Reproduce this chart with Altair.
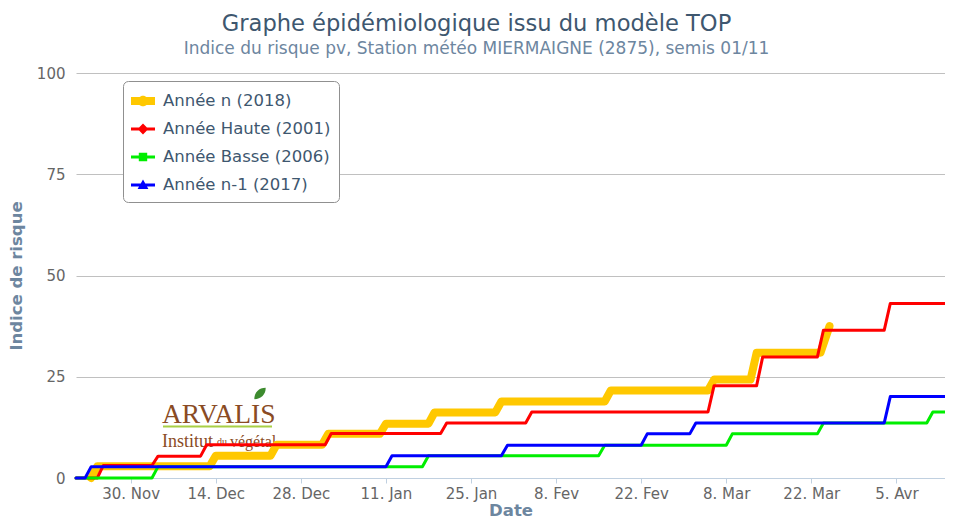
import json
import altair as alt
import pandas as pd

# ---------------- data ----------------
SERIES = ["Année n (2018)", "Année Haute (2001)", "Année Basse (2006)", "Année n-1 (2017)"]

N_DATES = ["2018-11-23T12:00:00Z", "2018-11-24T12:00:00Z", "2018-12-13T00:00:00Z", "2018-12-14T00:00:00Z",
           "2018-12-23T00:00:00Z", "2018-12-24T00:00:00Z", "2018-12-31T12:00:00Z", "2019-01-01T12:00:00Z",
           "2019-01-10T00:00:00Z", "2019-01-11T00:00:00Z", "2019-01-18T00:00:00Z", "2019-01-19T00:00:00Z",
           "2019-01-29T00:00:00Z", "2019-01-30T00:00:00Z", "2019-02-16T00:00:00Z", "2019-02-17T00:00:00Z",
           "2019-03-05T00:00:00Z", "2019-03-06T00:00:00Z", "2019-03-12T00:00:00Z", "2019-03-13T00:00:00Z",
           "2019-03-23T12:00:00Z", "2019-03-25T00:00:00Z"]
N_VALUES = [0, 2.9, 2.9, 5.5, 5.5, 8.2, 8.2, 10.9, 10.9, 13.4, 13.4, 16.2, 16.2, 18.9, 18.9, 21.6,
            21.6, 24.3, 24.3, 30.9, 30.9, 37.5]

HAUTE_DATES = ["2018-11-21T00:00:00Z", "2018-11-24T12:00:00Z", "2018-11-25T12:00:00Z", "2018-12-03T12:00:00Z",
               "2018-12-04T12:00:00Z", "2018-12-11T12:00:00Z", "2018-12-12T12:00:00Z", "2019-01-01T00:00:00Z",
               "2019-01-02T00:00:00Z", "2019-01-20T00:00:00Z", "2019-01-21T00:00:00Z", "2019-02-03T00:00:00Z",
               "2019-02-04T00:00:00Z", "2019-03-05T00:00:00Z", "2019-03-06T00:00:00Z", "2019-03-13T00:00:00Z",
               "2019-03-14T00:00:00Z", "2019-03-23T00:00:00Z", "2019-03-24T00:00:00Z", "2019-04-03T00:00:00Z",
               "2019-04-04T00:00:00Z", "2019-04-13T00:00:00Z"]
HAUTE_VALUES = [0, 0, 3.1, 3.1, 5.4, 5.4, 8.2, 8.2, 11.0, 11.0, 13.6, 13.6, 16.3, 16.3, 22.8, 22.8,
                29.9, 29.9, 36.5, 36.5, 43.1, 43.1]

BASSE_DATES = ["2018-11-21T00:00:00Z", "2018-12-03T12:00:00Z", "2018-12-04T12:00:00Z", "2019-01-17T00:00:00Z",
               "2019-01-18T00:00:00Z", "2019-02-15T00:00:00Z", "2019-02-16T00:00:00Z", "2019-03-08T00:00:00Z",
               "2019-03-09T00:00:00Z", "2019-03-23T00:00:00Z", "2019-03-24T00:00:00Z", "2019-04-10T00:00:00Z",
               "2019-04-11T00:00:00Z", "2019-04-13T00:00:00Z"]
BASSE_VALUES = [0, 0, 2.8, 2.8, 5.5, 5.5, 8.1, 8.1, 10.9, 10.9, 13.6, 13.6, 16.3, 16.3]

N1_DATES = ["2018-11-21T00:00:00Z", "2018-11-22T12:00:00Z", "2018-11-23T12:00:00Z", "2019-01-11T00:00:00Z",
            "2019-01-12T00:00:00Z", "2019-01-30T00:00:00Z", "2019-01-31T00:00:00Z", "2019-02-22T00:00:00Z",
            "2019-02-23T00:00:00Z", "2019-03-02T00:00:00Z", "2019-03-03T00:00:00Z", "2019-04-03T00:00:00Z",
            "2019-04-04T00:00:00Z", "2019-04-13T00:00:00Z"]
N1_VALUES = [0, 0, 2.8, 2.8, 5.5, 5.5, 8.1, 8.1, 10.9, 10.9, 13.6, 13.6, 20.1, 20.1]

X_DOMAIN = [(2018, 11, 21), (2019, 4, 13)]
TICK_DATES = [(2018, 11, 30), (2018, 12, 14), (2018, 12, 28), (2019, 1, 11), (2019, 1, 25),
              (2019, 2, 8), (2019, 2, 22), (2019, 3, 8), (2019, 3, 22), (2019, 4, 5)]
MONTHS = ["Jan", "Fev", "Mar", "Avr", "Mai", "Juin", "Juil", "Aou", "Sep", "Oct", "Nov", "Dec"]
Y_TICKS = [0, 25, 50, 75, 100]

TITLE = "Graphe épidémiologique issu du modèle TOP"
SUBTITLE = "Indice du risque pv, Station météo MIERMAIGNE (2875), semis 01/11"

# ---------------- styles ----------------
COLORS = ["#FFC800", "#FF0000", "#00EE00", "#0000FF"]
WIDTHS = [8, 3, 3, 3]
SHAPES = [
    "M-1,-0.33 L1,-0.33 L1,0.33 L-1,0.33 Z M-0.44,0 A0.44,0.44 0 1,1 0.44,0 A0.44,0.44 0 1,1 -0.44,0 Z",
    "M-1,-0.12 L1,-0.12 L1,0.12 L-1,0.12 Z M0,-0.45 L0.45,0 L0,0.45 L-0.45,0 Z",
    "M-1,-0.12 L1,-0.12 L1,0.12 L-1,0.12 Z M-0.35,-0.35 L0.35,-0.35 L0.35,0.35 L-0.35,0.35 Z",
    "M-1,-0.12 L1,-0.12 L1,0.12 L-1,0.12 Z M0,-0.45 L0.45,0.33 L-0.45,0.33 Z",
]
LEAF = "M-1,1 C-1,-0.2 -0.2,-1 1,-1 C1,0.2 0.2,1 -1,1 Z"
FONT = "DejaVu Sans"
SERIF = "Liberation Serif"

rows = []
for name, dates, vals in zip(SERIES, [N_DATES, HAUTE_DATES, BASSE_DATES, N1_DATES],
                             [N_VALUES, HAUTE_VALUES, BASSE_VALUES, N1_VALUES]):
    for d, v in zip(dates, vals):
        rows.append({"series": name, "date": d, "value": v})
df = pd.DataFrame(rows)


def dt(t):
    return alt.DateTime(year=t[0], month=t[1], date=t[2], utc=True)


label_expr = ("utcdate(datum.value) + '. ' + " + json.dumps(MONTHS) + "[utcmonth(datum.value)]")

x_enc = alt.X(
    "date:T",
    title="Date",
    scale=alt.Scale(type="utc", domain=[dt(t) for t in X_DOMAIN], nice=False),
    axis=alt.Axis(values=[dt(t) for t in TICK_DATES], labelExpr=label_expr, labelFont=FONT,
                  labelFontSize=15, labelColor="#666666", domainColor="#C0D0E0", tickColor="#C0D0E0",
                  tickSize=5, labelPadding=3, grid=False, titleFont=FONT, titleFontSize=16.5,
                  titleFontWeight="bold", titleColor="#6D869F", titlePadding=1, labelOverlap=False,
                  labelFlush=False),
)
y_enc = alt.Y(
    "value:Q",
    title="Indice de risque",
    scale=alt.Scale(domain=[0, 100], nice=False),
    axis=alt.Axis(values=Y_TICKS, labelFont=FONT, labelFontSize=15, labelColor="#666666", domain=False,
                  ticks=False, tickSize=0, labelPadding=11, gridColor="#C0C0C0", titleFont=FONT,
                  titleFontSize=16.5, titleFontWeight="bold", titleColor="#6D869F", titlePadding=12),
)
# line colours: same mapping, listed in reverse so that this (legend-less) scale stays separate
stroke_scale = alt.Scale(domain=SERIES[::-1], range=COLORS[::-1])

line_layers = []
for name, w in zip(SERIES, WIDTHS):
    line_layers.append(
        alt.Chart(df).transform_filter(alt.datum.series == name)
        .mark_line(strokeCap="round", strokeJoin="round", strokeWidth=w)
        .encode(
            x=x_enc,
            y=y_enc,
            stroke=alt.Stroke("series:N", scale=stroke_scale, legend=None),
        )
    )

legend = alt.Legend(title=None, orient="none", legendX=47, legendY=8)
legend_layer = (
    alt.Chart(df)
    .mark_point(filled=True, size=576, opacity=0, strokeWidth=0)
    .encode(
        x=x_enc,
        y=y_enc,
        fill=alt.Fill("series:N", scale=alt.Scale(domain=SERIES, range=COLORS), legend=legend),
        shape=alt.Shape("series:N", scale=alt.Scale(domain=SERIES, range=SHAPES), legend=legend),
    )
)

# ---------------- ARVALIS logo (decoration) ----------------
BROWN = "#8A4B24"
logo = [
    alt.Chart(pd.DataFrame({"t": ["ARVALIS"]})).mark_text(align="left", baseline="alphabetic", font=SERIF,
                                                       fontSize=27.5, color=BROWN)
    .encode(text="t:N", x=alt.value(86), y=alt.value(350)),
    alt.Chart(pd.DataFrame({"t": ["Institut"]})).mark_text(align="left", baseline="alphabetic", font=SERIF,
                                                        fontSize=18, color=BROWN)
    .encode(text="t:N", x=alt.value(86), y=alt.value(374)),
    alt.Chart(pd.DataFrame({"t": ["du"]})).mark_text(align="left", baseline="alphabetic", font=SERIF,
                                                  fontSize=10, color=BROWN)
    .encode(text="t:N", x=alt.value(141), y=alt.value(372)),
    alt.Chart(pd.DataFrame({"t": ["végétal"]})).mark_text(align="left", baseline="alphabetic", font=SERIF,
                                                       fontSize=16, color=BROWN)
    .encode(text="t:N", x=alt.value(154), y=alt.value(374)),
    alt.Chart(pd.DataFrame({"t": ["swoosh"]})).mark_rule(color="#A8CF45", strokeWidth=2)
    .encode(x=alt.value(87), x2=alt.value(196), y=alt.value(353.5)),
    alt.Chart(pd.DataFrame({"t": ["leaf"]})).mark_point(shape=LEAF, filled=True, size=130, color="#3D8B2F",
                                                     opacity=1, strokeWidth=0)
    .encode(x=alt.value(184), y=alt.value(320.5)),
]

chart = alt.layer(*logo, *line_layers, legend_layer).properties(
    width=869,
    height=405,
    padding={"left": 68, "top": 65, "right": 0, "bottom": 40},
    autosize=alt.AutoSizeParams(type="none"),
    title=alt.TitleParams(text=TITLE, subtitle=SUBTITLE, anchor="middle", dx=-34, font=FONT, fontSize=22.6,
                          fontWeight="normal", color="#3E576F", subtitleFont=FONT, subtitleFontSize=17,
                          subtitleColor="#6D869F", subtitlePadding=5, offset=9),
).configure_view(stroke=None).configure_legend(
    orient="none", legendX=47, legendY=8, direction="vertical", padding=8, strokeColor="#909090",
    cornerRadius=5, fillColor="#FFFFFF", labelFont=FONT, labelFontSize=16.5, labelColor="#3E576F",
    labelOffset=8, rowPadding=7, symbolSize=576, symbolStrokeWidth=0, symbolOpacity=1,
    labelLimit=400,
)

chart.save("out.html", embed_options={"renderer": "svg", "actions": False})
